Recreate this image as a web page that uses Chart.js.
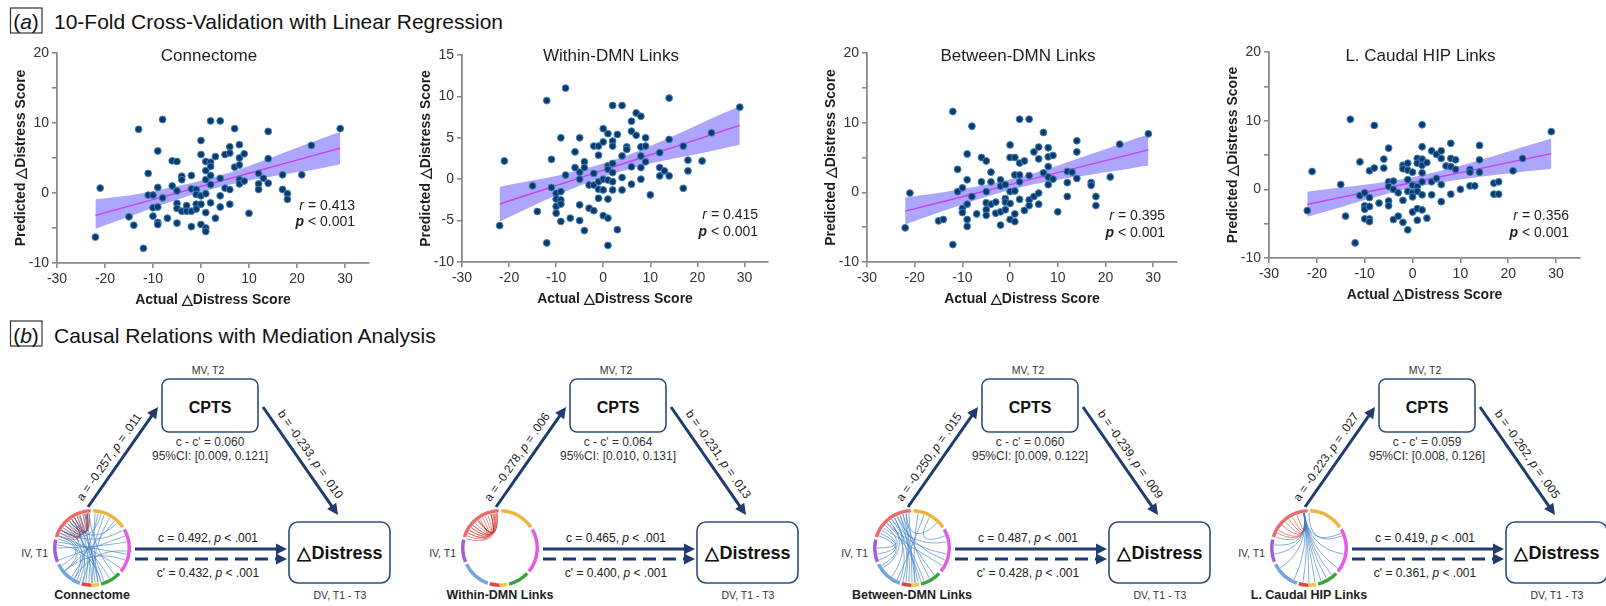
<!DOCTYPE html>
<html><head><meta charset="utf-8">
<script src="https://cdn.jsdelivr.net/npm/chart.js@4.4.1/dist/chart.umd.min.js"></script>
<style>
html,body{margin:0;padding:0;background:#fff;}
body{width:1606px;height:606px;position:relative;overflow:hidden;font-family:"Liberation Sans",Arial,sans-serif;}
#svg{position:absolute;left:0;top:0;}
</style></head><body>
<svg id="svg" width="1606" height="606"></svg>
<script>
// ---------------- DATA ----------------
const panelTitles = ['Connectome', 'Within-DMN Links', 'Between-DMN Links', 'L. Caudal HIP Links'];
const xAxisTitle = 'Actual \u25B3Distress Score';
const yAxisTitle = 'Predicted \u25B3Distress Score';
const xTicks = [-30, -20, -10, 0, 10, 20, 30];
const yRanges = [[-10, 20], [-10, 15], [-10, 20], [-10, 20]];
const rValues = ['0.413', '0.415', '0.395', '0.356'];
const pText = '< 0.001';

const connectomePts = [[-22,-6.3],[-21,0.7],[-15,-3.4],[-14,-4.6],[-13,9.1],[-12,-7.9],[-11,2.8],[-11,-0.3],[-10,-0.3],[-10,-2.1],[-10,-3.3],[-9,6.0],[-9,0.8],[-9,-2.0],[-9,-4.2],[-9,-4.5],[-8,10.5],[-8,-0.7],[-7,-3.6],[-6,4.6],[-6,1.0],[-5,4.5],[-5,0.3],[-5,-1.5],[-5,-2.2],[-5,-4.3],[-4,2.4],[-4,1.9],[-4,-2.6],[-3,-1.8],[-3,-2.6],[-2,2.5],[-2,0.6],[-2,-2.6],[-2,-4.8],[-1,0.5],[-1,-1.6],[-1,-2.3],[-1,-0.2],[0,7.5],[0,5.5],[0,-0.4],[0,-1.6],[0,-4.5],[1,4.5],[1,3.2],[1,1.9],[1,-0.1],[1,-2.8],[1,-5.0],[1,-5.5],[2,10.3],[2,4.4],[2,3.8],[2,2.5],[2,1.2],[2,-1.4],[3,5.2],[3,-3.6],[4,10.3],[4,2.1],[4,-0.4],[4,-2.0],[5,5.5],[5,0.7],[6,6.6],[6,5.7],[6,0.5],[6,-1.6],[7,9.2],[7,3.7],[8,6.9],[8,5.0],[8,4.0],[8,1.9],[8,1.3],[9,5.6],[9,1.7],[10,-2.9],[12,2.8],[12,1.3],[12,0.5],[13,2.1],[14,8.8],[14,4.9],[14,1.4],[17,2.6],[17,0.5],[18,-0.1],[18,-0.9],[21,2.6],[23,6.8],[29,9.2]];
const withinPts = [[-22,-5.6],[-21,2.2],[-15,-0.8],[-14,-3.9],[-12,9.5],[-12,-7.7],[-11,2.4],[-11,-1.0],[-10,-1.7],[-10,-2.4],[-10,-3.3],[-10,-4.1],[-9,5.0],[-9,-1.5],[-9,-2.5],[-9,-3.0],[-9,-5.1],[-8,11.0],[-8,0.5],[-7,-4.7],[-6,3.3],[-6,1.4],[-5,5.0],[-5,0.85],[-5,0.0],[-5,-3.1],[-5,-5.0],[-4,2.1],[-4,1.4],[-4,-6.2],[-3,-0.7],[-3,-3.5],[-2,4.0],[-2,0.7],[-2,-0.7],[-2,-3.8],[-1,4.0],[-1,2.9],[-1,-0.3],[-1,-1.2],[-1,-2.3],[0,6.1],[0,4.5],[0,0.0],[0,-1.3],[0,-4.4],[1,5.5],[1,1.6],[1,1.2],[1,-0.1],[1,-2.4],[1,-4.7],[1,-8.0],[2,8.9],[2,4.6],[2,4.0],[2,1.9],[2,0.8],[2,-0.3],[2,-1.3],[3,5.4],[3,-6.1],[4,8.9],[4,2.8],[4,0.2],[4,-1.3],[5,3.9],[5,3.6],[6,7.0],[6,5.8],[6,1.5],[6,-0.6],[7,8.0],[7,5.3],[8,7.6],[8,3.9],[8,2.8],[8,1.4],[8,0.0],[9,5.0],[9,4.0],[9,2.1],[10,-1.9],[12,3.2],[12,1.4],[12,0.4],[13,1.0],[14,9.8],[14,4.8],[14,0.4],[17,4.0],[17,-1.1],[18,2.3],[18,1.0],[21,2.2],[23,5.6],[29,8.7]];
const betweenPts = [[-22,-5.1],[-21,-0.1],[-15,-4.1],[-14,-3.9],[-12,11.6],[-12,-7.5],[-11,3.3],[-11,0.1],[-10,0.65],[-10,-2.3],[-10,-2.9],[-9,5.5],[-9,1.8],[-9,-1.7],[-9,-3.9],[-9,-4.9],[-8,9.5],[-8,-0.6],[-7,-3.1],[-6,5.0],[-6,1.5],[-5,4.5],[-5,0.1],[-5,-1.5],[-5,-2.5],[-5,-3.3],[-4,2.9],[-4,1.5],[-4,-1.7],[-3,-1.4],[-3,-3.0],[-2,1.8],[-2,0.9],[-2,-2.8],[-2,-4.7],[-1,1.1],[-1,-0.9],[-1,-1.4],[-1,-2.5],[0,6.8],[0,5.0],[0,0.1],[0,-1.6],[0,-3.9],[1,5.0],[1,2.5],[1,0.2],[1,-3.1],[1,-4.2],[2,10.5],[2,4.2],[2,2.5],[2,1.5],[2,-1.0],[3,4.5],[3,-2.6],[4,10.5],[4,2.4],[4,-1.1],[4,-1.9],[5,5.8],[5,-0.6],[6,6.5],[6,4.8],[6,-0.1],[6,-1.7],[7,8.6],[7,2.8],[8,6.4],[8,5.1],[8,3.7],[8,2.2],[8,1.1],[9,5.3],[9,1.9],[10,-2.8],[12,3.0],[12,1.4],[12,-0.6],[13,2.9],[14,7.4],[14,5.8],[14,2.0],[17,1.4],[17,1.0],[18,-0.6],[18,-1.9],[21,2.2],[23,6.9],[29,8.4]];
const caudalPts = [[-22,-3.1],[-21,2.6],[-15,0.7],[-14,-3.9],[-13,10.2],[-12,-7.8],[-11,4.0],[-11,-0.9],[-10,-0.5],[-10,-2.4],[-10,-2.9],[-10,-4.3],[-9,2.7],[-9,-1.2],[-9,-2.5],[-9,-4.3],[-9,-4.7],[-8,9.3],[-8,3.1],[-7,-2.0],[-6,4.4],[-6,3.1],[-5,6.0],[-5,1.1],[-5,0.4],[-5,-1.7],[-5,-2.4],[-4,1.2],[-4,0.0],[-4,-4.4],[-3,-0.5],[-3,-3.9],[-2,3.5],[-2,3.0],[-2,-1.6],[-2,-4.8],[-1,3.8],[-1,2.8],[-1,1.4],[-1,-0.3],[-1,-5.9],[0,2.5],[0,0.6],[0,-0.5],[0,-1.1],[0,-3.3],[1,4.5],[1,3.8],[1,0.4],[1,-0.3],[1,-2.8],[1,-4.5],[2,9.4],[2,6.2],[2,4.4],[2,3.5],[2,2.4],[2,1.1],[2,-0.8],[2,-3.0],[3,3.9],[3,-4.2],[4,5.6],[4,1.1],[4,-0.8],[5,5.1],[5,1.6],[6,5.6],[6,4.5],[6,0.7],[6,-1.8],[7,3.4],[8,6.7],[8,4.5],[8,3.3],[8,-0.7],[9,4.3],[9,2.9],[10,0.0],[12,2.9],[12,2.5],[12,0.5],[13,0.5],[14,6.4],[14,4.3],[14,2.5],[17,0.9],[17,-0.7],[18,1.1],[18,-0.7],[21,2.7],[23,4.5],[29,8.4]];

// regression line and 95% band at these x positions
const fitX = [-22, -15, -10, -5, 0, 5, 10, 15, 20, 25, 29];
const connectomeFit   = [-3.2, -1.88, -0.94, 0.0, 0.94, 1.88, 2.82, 3.76, 4.7, 5.65, 6.4];
const connectomeLower = [-5.1, -3.4, -2.1, -0.95, 0.15, 1.05, 1.8, 2.4, 2.95, 3.55, 4.1];
const connectomeUpper = [-0.9, -0.35, 0.25, 0.95, 1.75, 2.7, 3.85, 5.15, 6.45, 7.75, 8.7];
const withinFit   = [-3.0, -1.7, -0.77, 0.16, 1.09, 2.02, 2.95, 3.88, 4.8, 5.76, 6.5];
const withinLower = [-5.1, -3.25, -1.95, -0.8, 0.3, 1.15, 1.9, 2.5, 3.05, 3.65, 4.15];
const withinUpper = [-0.9, -0.15, 0.4, 1.1, 1.9, 2.85, 4.0, 5.25, 6.55, 7.85, 8.8];
const betweenFit   = [-2.7, -1.49, -0.63, 0.23, 1.1, 1.96, 2.82, 3.69, 4.55, 5.41, 6.1];
const betweenLower = [-4.6, -2.9, -1.75, -0.65, 0.35, 1.15, 1.8, 2.35, 2.9, 3.4, 3.85];
const betweenUpper = [-0.75, -0.1, 0.5, 1.1, 1.85, 2.75, 3.85, 5.05, 6.2, 7.4, 8.3];
const caudalFit   = [-2.2, -1.18, -0.46, 0.27, 0.99, 1.72, 2.44, 3.17, 3.89, 4.62, 5.2];
const caudalLower = [-4.0, -2.6, -1.55, -0.6, 0.25, 0.9, 1.45, 1.9, 2.3, 2.7, 3.0];
const caudalUpper = [-0.35, 0.25, 0.65, 1.15, 1.75, 2.55, 3.45, 4.45, 5.5, 6.55, 7.4];

// mediation results
const mediationNames = ['Connectome', 'Within-DMN Links', 'Between-DMN Links', 'L. Caudal HIP Links'];
const pathA  = [['-0.257', '.011'], ['-0.278', '.006'], ['-0.250', '.015'], ['-0.223', '.027']];
const pathB  = [['-0.233', '.010'], ['-0.231', '.013'], ['-0.239', '.009'], ['-0.262', '.005']];
const pathC  = ['0.492', '0.465', '0.487', '0.419'];
const pathCp = ['0.432', '0.400', '0.428', '0.361'];
const indirect = ['0.060', '0.064', '0.060', '0.059'];
const indirectCI = [['0.009', '0.121'], ['0.010', '0.131'], ['0.009', '0.122'], ['0.008', '0.126']];

// network ring (degrees clockwise from top) and chord links
const ringStartDeg = [2, 60, 133, 169, 181, 199, 248, 287];
const ringEndDeg   = [56, 129, 166, 181, 196, 244, 283, 358];
const ringColors   = ['#f2b33d', '#e35ce5', '#3ba33c', '#f4c542', '#e2453c', '#75a5d9', '#a35ed3', '#ea6d6b'];
const connectomeChords = [[300,340,'r'],[305,345,'r'],[310,350,'r'],[295,335,'r'],[315,352,'r'],[290,330,'r'],[320,355,'d'],[300,325,'d'],[310,338,'r'],[325,352,'d'],[330,348,'d'],
 [350,175,'b'],[345,185,'b'],[340,170,'b'],[335,190,'b'],[330,160,'b'],[325,200,'b'],[320,180,'b'],[315,165,'b'],[310,205,'b'],[305,150,'b'],[300,195,'b'],[295,210,'b'],[290,230,'b'],[285,240,'b'],[355,140,'b'],[20,195,'b'],[30,180,'b'],[40,230,'b'],[70,250,'b'],[80,270,'b'],[95,210,'b'],[110,230,'b'],[100,280,'b'],[60,300,'b'],[125,290,'b'],[15,300,'b'],[45,320,'b'],[165,275,'b'],[10,215,'b'],[5,170,'b']];
const withinChords = [[290,350,'r'],[295,345,'r'],[300,352,'r'],[305,340,'r'],[310,348,'r'],[300,330,'r'],[315,355,'r'],[320,350,'r'],[295,325,'r'],[285,355,'r'],[305,355,'r'],[310,335,'r'],[322,345,'d']];
const betweenChords = [[345,175,'b'],[340,185,'b'],[335,170,'b'],[330,190,'b'],[325,160,'b'],[320,200,'b'],[315,165,'b'],[350,150,'b'],[355,180,'b'],[340,140,'b'],[330,215,'b'],[320,235,'b'],[310,250,'b'],[300,270,'b'],[295,260,'b'],[305,120,'b'],[315,100,'b'],[325,80,'b'],[10,175,'b'],[20,205,'b'],[30,70,'b'],[345,45,'b'],[335,110,'b'],[290,240,'b'],[350,195,'b']];
const caudalChords = [[352,300,'r'],[352,310,'r'],[352,318,'r'],[352,325,'r'],[352,332,'r'],[352,340,'r'],[352,295,'r'],[352,288,'r'],
 [352,65,'b'],[352,100,'b'],[352,125,'b'],[352,140,'b'],[352,150,'b'],[352,160,'b'],[352,170,'b'],[352,180,'b'],[352,190,'b'],[352,205,'b'],[352,235,'b'],[352,260,'b'],[352,275,'b'],[0,70,'b']];

// ---------------- LAYOUT / STYLE ----------------
const FAM = '"Liberation Sans", Arial, Helvetica, sans-serif';
const panelPts = [connectomePts, withinPts, betweenPts, caudalPts];
const panelFit = [connectomeFit, withinFit, betweenFit, caudalFit];
const panelLow = [connectomeLower, withinLower, betweenLower, caudalLower];
const panelUp  = [connectomeUpper, withinUpper, betweenUpper, caudalUpper];
const geom = [
  {left:57, right:369, top:53, bottom:263, tr:14, ty1:153, ty2:169},
  {left:462, right:768, top:55, bottom:262, tr:10, ty1:160, ty2:177},
  {left:867, right:1177, top:53, bottom:262, tr:12, ty1:163, ty2:180},
  {left:1269, right:1580, top:52, bottom:258, tr:11, ty1:164, ty2:181}
];
const AXC = '#8a8a8a';

function drawRight(ctx, parts, xr, y){
  let w = 0;
  parts.forEach(p => { ctx.font = p[1]; w += ctx.measureText(p[0]).width; });
  let x = xr - w;
  ctx.textAlign = 'left';
  parts.forEach(p => { ctx.font = p[1]; ctx.fillText(p[0], x, y); x += ctx.measureText(p[0]).width; });
}

function makePanel(k){
  const g = geom[k];
  const L = g.left - 57, W = g.right - L + 14, H = 318;
  const cv = document.createElement('canvas');
  cv.width = W; cv.height = H;
  cv.style.cssText = `position:absolute;left:${L}px;top:0px;width:${W}px;height:${H}px`;
  document.body.appendChild(cv);
  const [ymin, ymax] = yRanges[k];
  const allLabels = (ymax - ymin) === 25;
  const textPlugin = {
    id: 'txt' + k,
    afterDraw(c){
      const ctx = c.ctx, ca = c.chartArea;
      ctx.save();
      ctx.fillStyle = '#1e1e1e';
      ctx.textBaseline = 'middle';
      ctx.textAlign = 'center';
      ctx.font = `17px ${FAM}`;
      ctx.fillText(panelTitles[k], (ca.left + ca.right) / 2 - 4, 56);
      ctx.font = `bold 14px ${FAM}`;
      ctx.fillText(xAxisTitle, (ca.left + ca.right) / 2, ca.bottom + 37);
      ctx.save();
      ctx.translate(ca.left - 36, (ca.top + ca.bottom) / 2);
      ctx.rotate(-Math.PI / 2);
      ctx.fillText(yAxisTitle, 0, 0);
      ctx.restore();
      drawRight(ctx, [['r', `italic 14px ${FAM}`], [' = ' + rValues[k], `14px ${FAM}`]], ca.right - g.tr, ca.top + g.ty1);
      drawRight(ctx, [['p', `italic bold 14px ${FAM}`], [' ' + pText, `14px ${FAM}`]], ca.right - g.tr, ca.top + g.ty2);
      ctx.restore();
    }
  };
  new Chart(cv, {
    type: 'scatter',
    data: { datasets: [
      { data: panelPts[k].map(p => ({x: p[0], y: p[1]})), backgroundColor: '#0c3a69', borderColor: '#3f80c2', borderWidth: 1, pointRadius: 3.4, order: 0 },
      { type: 'line', data: fitX.map((x, i) => ({x, y: panelFit[k][i]})), borderColor: '#cc3ef2', borderWidth: 1.4, pointRadius: 0, fill: false, order: 1 },
      { type: 'line', data: fitX.map((x, i) => ({x, y: panelLow[k][i]})), borderColor: 'rgba(0,0,0,0)', borderWidth: 0, pointRadius: 0, fill: false, cubicInterpolationMode: 'monotone', order: 3 },
      { type: 'line', data: fitX.map((x, i) => ({x, y: panelUp[k][i]})), borderColor: 'rgba(0,0,0,0)', borderWidth: 0, pointRadius: 0, fill: '-1', backgroundColor: 'rgba(122,112,250,0.62)', cubicInterpolationMode: 'monotone', order: 2 }
    ]},
    options: {
      responsive: false, animation: false, events: [],
      layout: { padding: { top: g.top, right: W - (g.right - L), left: 0, bottom: 0 } },
      plugins: { legend: { display: false }, tooltip: { enabled: false }, title: { display: false } },
      scales: {
        x: {
          type: 'linear', min: -30, max: 35,
          afterBuildTicks: s => { s.ticks = xTicks.map(v => ({value: v})); },
          ticks: { color: '#333', font: { size: 14, family: FAM }, padding: 3, maxRotation: 0, autoSkip: false },
          grid: { drawOnChartArea: false, drawTicks: true, tickLength: 5, color: AXC, lineWidth: 1.6 },
          border: { color: AXC, width: 1.8 },
          afterFit: s => { s.height = H - g.bottom; }
        },
        y: {
          type: 'linear', min: ymin, max: ymax,
          ticks: { stepSize: 5, color: '#333', font: { size: 14, family: FAM }, padding: 3,
                   callback: v => (allLabels || v % 10 === 0) ? String(v) : '' },
          grid: { drawOnChartArea: false, drawTicks: true, tickLength: 5, color: AXC, lineWidth: 1.6 },
          border: { color: AXC, width: 1.8 },
          afterFit: s => { s.width = 57; }
        }
      }
    },
    plugins: [textPlugin]
  });
}
for (let k = 0; k < 4; k++) makePanel(k);

// ---------------- BOTTOM: mediation diagrams ----------------
const svg = document.getElementById('svg');
const NS = 'http://www.w3.org/2000/svg';
function el(tag, attrs, parent){ const e = document.createElementNS(NS, tag); for (const a in attrs) e.setAttribute(a, attrs[a]); (parent || svg).appendChild(e); return e; }
function stext(x, y, parts, attrs, parent){
  const t = el('text', Object.assign({x, y, 'font-family': FAM, fill: '#222'}, attrs || {}), parent);
  parts.forEach(p => { const s = el('tspan', p[1] || {}, t); s.textContent = p[0]; });
  return t;
}
const IT = {'font-style': 'italic'};
const NAVY = '#1f3b6f';
function arrow(x1, y1, x2, y2, dash){
  const ang = Math.atan2(y2 - y1, x2 - x1), hl = 11, hw = 5.5;
  const bx = x2 - hl * Math.cos(ang), by = y2 - hl * Math.sin(ang);
  const a = {x1, y1, x2: bx + Math.cos(ang), y2: by + Math.sin(ang), stroke: NAVY, 'stroke-width': 3};
  if (dash) a['stroke-dasharray'] = '13 7';
  el('line', a);
  el('polygon', {points: `${x2},${y2} ${bx - hw * Math.sin(ang)},${by + hw * Math.cos(ang)} ${bx + hw * Math.sin(ang)},${by - hw * Math.cos(ang)}`, fill: NAVY});
}
function rotLabel(x1, y1, x2, y2, up, along, parts){
  const ang = Math.atan2(y2 - y1, x2 - x1);
  const ux = Math.cos(ang), uy = Math.sin(ang), nx = Math.sin(ang), ny = -Math.cos(ang);
  const cx = (x1 + x2) / 2 + up * nx + along * ux, cy = (y1 + y2) / 2 + up * ny + along * uy;
  const g = el('g', {transform: `translate(${cx},${cy}) rotate(${ang * 180 / Math.PI})`});
  stext(0, 0, parts, {'font-size': 12, 'text-anchor': 'middle', 'dominant-baseline': 'central'}, g);
}

// section headers
function header(y0, letter, title, base){
  el('rect', {x: 10.5, y: y0, width: 31.5, height: 25, fill: 'none', stroke: '#333', 'stroke-width': 1.2});
  stext(26, base, [['('], [letter, IT], [')']], {'font-size': 21, 'text-anchor': 'middle', fill: '#111'});
  stext(54, base, [[title]], {'font-size': 21, fill: '#111'});
}
header(8, 'a', '10-Fold Cross-Validation with Linear Regression', 29);
header(321, 'b', 'Causal Relations with Mediation Analysis', 343);

const diagOffsets = [0, 408, 820, 1217];
const chordSets = [connectomeChords, withinChords, betweenChords, caudalChords];
const chordColors = {r: 'rgba(217,70,62,0.6)', d: 'rgba(150,35,35,0.75)', b: 'rgba(61,127,196,0.62)'};

for (let d = 0; d < 4; d++){
  const ox = diagOffsets[d];
  stext(208 + ox, 374, [['MV, T2']], {'font-size': 10.5, 'text-anchor': 'middle', fill: '#333'});
  el('rect', {x: 162 + ox, y: 379, width: 96, height: 53, rx: 7, fill: '#fff', stroke: '#2e4d7e', 'stroke-width': 1.6});
  stext(210 + ox, 413, [['CPTS']], {'font-size': 16, 'font-weight': 'bold', 'text-anchor': 'middle', fill: '#111'});
  stext(210 + ox, 446, [["c - c' = " + indirect[d]]], {'font-size': 12, 'text-anchor': 'middle', fill: '#333'});
  stext(210 + ox, 460, [['95%CI: [' + indirectCI[d][0] + ', ' + indirectCI[d][1] + ']']], {'font-size': 12, 'text-anchor': 'middle', fill: '#333'});
  el('rect', {x: 289 + ox, y: 522, width: 101, height: 61, rx: 9, fill: '#fff', stroke: '#2e4d7e', 'stroke-width': 1.6});
  stext(340 + ox, 553, [['\u25B3Distress']], {'font-size': 18, 'font-weight': 'bold', 'text-anchor': 'middle', 'dominant-baseline': 'central', fill: '#111'});
  stext(340 + ox, 599, [['DV, T1 - T3']], {'font-size': 10.5, 'text-anchor': 'middle', fill: '#333'});
  stext(48 + ox, 557, [['IV, T1']], {'font-size': 10.5, 'text-anchor': 'end', fill: '#333'});
  stext(92 + ox, 599, [[mediationNames[d]]], {'font-size': 12.5, 'font-weight': 'bold', 'text-anchor': 'middle', fill: '#222'});

  arrow(88 + ox, 507, 158 + ox, 407, false);
  arrow(263 + ox, 407, 338 + ox, 515, false);
  arrow(135 + ox, 549, 287 + ox, 549, false);
  arrow(135 + ox, 559, 287 + ox, 559, true);
  rotLabel(88 + ox, 507, 158 + ox, 407, 11.5, -8, [['a = ' + pathA[d][0] + ', '], ['p', IT], [' = ' + pathA[d][1]]]);
  rotLabel(263 + ox, 407, 338 + ox, 515, 12, 0, [['b = ' + pathB[d][0] + ', '], ['p', IT], [' = ' + pathB[d][1]]]);
  stext(208 + ox, 542, [['c = ' + pathC[d] + ', '], ['p', IT], [' < .001']], {'font-size': 12, 'text-anchor': 'middle', fill: '#222'});
  stext(208 + ox, 577, [["c' = " + pathCp[d] + ', '], ['p', IT], [' < .001']], {'font-size': 12, 'text-anchor': 'middle', fill: '#222'});

  // network ring as doughnut + chords
  const cv = document.createElement('canvas');
  cv.width = 78; cv.height = 78;
  cv.style.cssText = `position:absolute;left:${92 + ox - 39}px;top:${548 - 39}px;width:78px;height:78px`;
  document.body.appendChild(cv);
  const vals = [], cols = [];
  let cur = 0;
  ringStartDeg.forEach((s, i) => {
    if (s > cur) { vals.push(s - cur); cols.push('rgba(0,0,0,0)'); }
    vals.push(ringEndDeg[i] - s); cols.push(ringColors[i]);
    cur = ringEndDeg[i];
  });
  if (cur < 360) { vals.push(360 - cur); cols.push('rgba(0,0,0,0)'); }
  const chords = chordSets[d];
  new Chart(cv, {
    type: 'doughnut',
    data: { datasets: [{ data: vals, backgroundColor: cols, borderWidth: 0 }] },
    options: { responsive: false, animation: false, events: [], cutout: '91%',
      plugins: { legend: { display: false }, tooltip: { enabled: false } } },
    plugins: [{ id: 'chords' + d, afterDatasetsDraw(c){
      const arc = c.getDatasetMeta(0).data[0];
      const cx = arc.x, cy = arc.y, r = arc.innerRadius - 0.5, ctx = c.ctx;
      ctx.save(); ctx.lineWidth = 1;
      chords.forEach(ch => {
        const a1 = (ch[0] - 90) * Math.PI / 180, a2 = (ch[1] - 90) * Math.PI / 180;
        ctx.strokeStyle = chordColors[ch[2]];
        ctx.beginPath();
        ctx.moveTo(cx + r * Math.cos(a1), cy + r * Math.sin(a1));
        ctx.quadraticCurveTo(cx, cy, cx + r * Math.cos(a2), cy + r * Math.sin(a2));
        ctx.stroke();
      });
      ctx.restore();
    }}]
  });
}
</script>
</body></html>
